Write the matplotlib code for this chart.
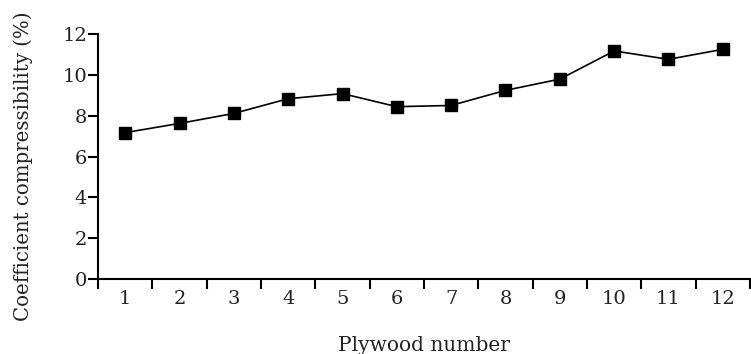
import matplotlib
matplotlib.use("Agg")
import matplotlib.pyplot as plt
import numpy as np

plywood = [1, 2, 3, 4, 5, 6, 7, 8, 9, 10, 11, 12]
compressibility = [7.17, 7.62, 8.11, 8.83, 9.08, 8.44, 8.50, 9.24, 9.79, 11.17, 10.76, 11.25]
y_ticks = [0, 2, 4, 6, 8, 10, 12]

plt.rcParams['font.family'] = ['DejaVu Serif']

fig = plt.figure(figsize=(7.51, 3.54), dpi=100)
ax = fig.add_axes([98/751, 1 - 279/354, 652/751, 245/354])

ax.plot(plywood, compressibility, color='black', lw=1.2, marker='s', ms=8,
        markerfacecolor='black', markeredgecolor='black')

ax.set_xlim(0.5, 12.5)
ax.set_ylim(0, 12)
ax.set_yticks(y_ticks)
ax.set_yticklabels([str(v) for v in y_ticks])

# boundary ticks (major, no labels) and centered labels (minor, no tick marks)
ax.set_xticks(np.arange(0.5, 13, 1.0))
ax.set_xticklabels([])
ax.set_xticks(plywood, minor=True)
ax.set_xticklabels([str(p) for p in plywood], minor=True)
ax.tick_params(axis='x', which='minor', length=0, pad=8, labelsize=14, colors='#222222')
ax.tick_params(axis='x', which='major', length=7, width=1.5, direction='out')
ax.tick_params(axis='y', length=7, width=1.5, direction='out', pad=1, labelsize=14, colors='#222222')
ax.tick_params(axis='both', color='black')

for s in ['top', 'right']:
    ax.spines[s].set_visible(False)
for s in ['left', 'bottom']:
    ax.spines[s].set_linewidth(1.5)

ax.set_xlabel('Plywood number', fontsize=14.5, color='#222222', labelpad=20)
ax.set_ylabel('Coefficient compressibility (%)', fontsize=14.2, color='#222222')
ax.yaxis.set_label_coords(-0.1, 0.459)

fig.savefig('out.png', dpi=100)
